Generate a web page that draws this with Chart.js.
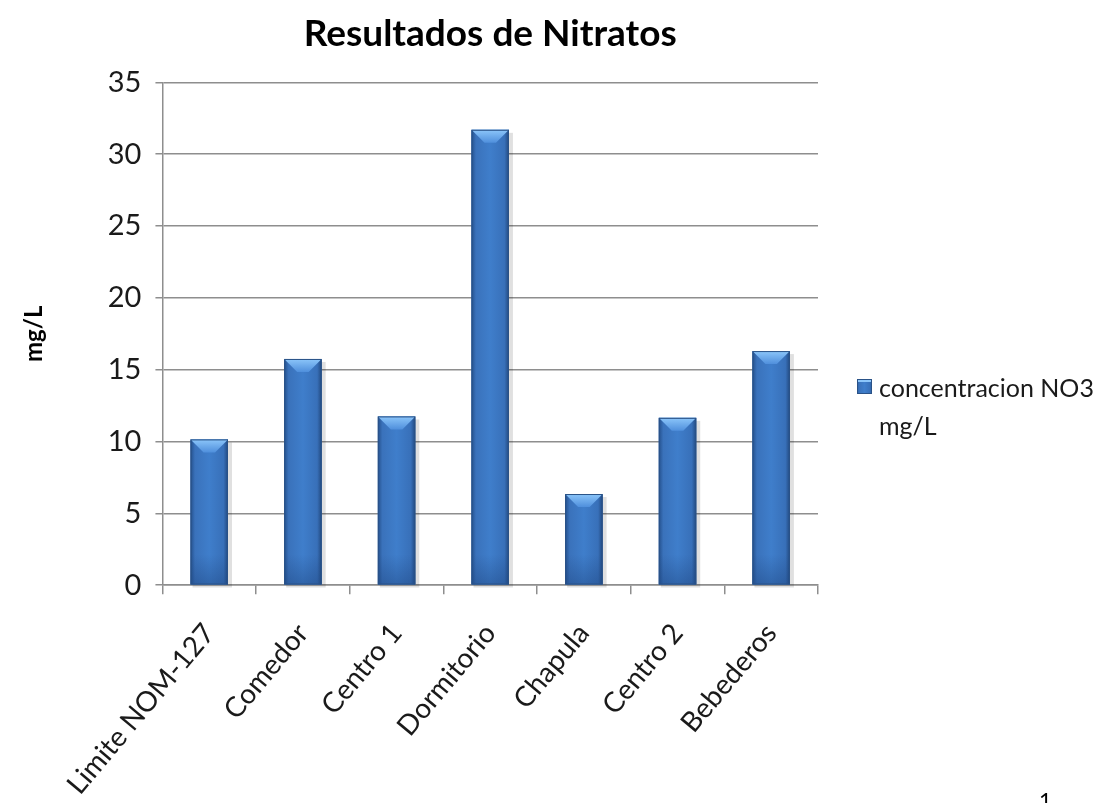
<!DOCTYPE html>
<html>
<head>
<meta charset="utf-8">
<script src="https://cdn.jsdelivr.net/npm/chart.js@4/dist/chart.umd.min.js"></script>
<style>
  html, body { margin: 0; padding: 0; background: #fff; }
  #wrap { position: relative; width: 1111px; height: 803px; }
</style>
</head>
<body>
<div id="wrap"><canvas id="bar-chart" width="1111" height="803"></canvas></div>
<script>
// Nitrate results per sampling site
const sitios = ["Limite NOM-127", "Comedor", "Centro 1", "Dormitorio", "Chapula", "Centro 2", "Bebederos"];
const nitratos = [10.15, 15.75, 11.75, 31.7, 6.35, 11.65, 16.3];
const serieLabel = "concentracion NO3 mg/L";
const yTicks = [0, 5, 10, 15, 20, 25, 30, 35];

const FONT = "Lato, 'Open Sans', sans-serif";
const GRID = "#8e8e8e";

// horizontal shading for the bar body
function bodyGradient(ctx, left, right) {
    const g = ctx.createLinearGradient(left, 0, right, 0);
    g.addColorStop(0, "#24508c");
    g.addColorStop(0.12, "#3a72bb");
    g.addColorStop(0.5, "#3f7ecb");
    g.addColorStop(0.88, "#3870b9");
    g.addColorStop(1, "#22497f");
    return g;
}

// bevelled look on top of each bar
const bevelBars = {
    id: "bevelBars",
    afterDatasetsDraw(chart) {
        const ctx = chart.ctx;
        chart.getDatasetMeta(0).data.forEach(bar => {
            const p = bar.getProps(["x", "y", "base", "width"], true);
            const left = p.x - p.width / 2, right = p.x + p.width / 2;
            const top = p.y, bottom = p.base;
            const h = bottom - top;
            const b = Math.min(13, h / 3);
            ctx.save();
            // soft shadow
            ctx.fillStyle = "rgba(0,0,0,0.12)";
            ctx.fillRect(left + 2, top + 3, p.width + 2, h);
            // body
            ctx.fillStyle = bodyGradient(ctx, left, right);
            ctx.fillRect(left, top, p.width, h);
            // bottom darker band
            const gb = ctx.createLinearGradient(0, bottom - 30, 0, bottom);
            gb.addColorStop(0, "rgba(30,70,130,0)");
            gb.addColorStop(1, "rgba(30,70,130,0.45)");
            ctx.fillStyle = gb;
            ctx.fillRect(left, bottom - 30, p.width, 30);
            // top bevel
            const gt = ctx.createLinearGradient(0, top, 0, top + b);
            gt.addColorStop(0, "#8cc6fa");
            gt.addColorStop(1, "#4f8fdc");
            ctx.fillStyle = gt;
            ctx.beginPath();
            ctx.moveTo(left, top);
            ctx.lineTo(right, top);
            ctx.lineTo(right - b, top + b);
            ctx.lineTo(left + b, top + b);
            ctx.closePath();
            ctx.fill();
            // outline
            ctx.strokeStyle = "#2a5287";
            ctx.lineWidth = 1;
            ctx.strokeRect(left + 0.5, top + 0.5, p.width - 1, h - 1);
            ctx.restore();
        });
    }
};

// legend with wrapped text, plus page number
const sideLegend = {
    id: "sideLegend",
    afterDraw(chart) {
        const ctx = chart.ctx;
        const x = 857, y = 379;
        ctx.save();
        ctx.fillStyle = bodyGradient(ctx, x, x + 15);
        ctx.fillRect(x, y, 15, 15);
        ctx.fillStyle = "#8cc6fa";
        ctx.fillRect(x, y, 15, 3);
        ctx.strokeStyle = "#2a5287";
        ctx.strokeRect(x + 0.5, y + 0.5, 14, 14);
        ctx.fillStyle = "#1a1a1a";
        ctx.font = "25px " + FONT;
        ctx.textBaseline = "alphabetic";
        const words = serieLabel.split(" ");
        ctx.fillText(words.slice(0, 2).join(" "), 879, 397);
        ctx.fillText(words.slice(2).join(" "), 879, 435);
        ctx.font = "22px " + FONT;
        ctx.fillStyle = "#000";
        ctx.fillText("1", 1039, 808);
        ctx.restore();
    }
};

new Chart(document.getElementById("bar-chart"), {
    type: "bar",
    data: {
        labels: sitios,
        datasets: [{
            label: serieLabel,
            data: nitratos,
            backgroundColor: "#3c78c4",
            borderWidth: 0,
            barPercentage: 0.4,
            categoryPercentage: 1.0
        }]
    },
    options: {
        responsive: false,
        animation: false,
        layout: { padding: { left: 20, right: 293, top: 0, bottom: -21 } },
        plugins: {
            legend: { display: false },
            tooltip: { enabled: false },
            title: {
                display: true,
                text: "Resultados de Nitratos",
                fullSize: false,
                color: "#000",
                font: { family: FONT, size: 37, weight: "bold" },
                padding: { top: 12, bottom: 26 }
            }
        },
        scales: {
            x: {
                grid: { display: true, drawOnChartArea: false, drawTicks: true, tickLength: 9, color: GRID, lineWidth: 1.5 },
                border: { color: GRID, width: 1.5 },
                ticks: {
                    color: "#1a1a1a",
                    font: { family: FONT, size: 28 },
                    minRotation: 50,
                    maxRotation: 50,
                    autoSkip: false,
                    padding: 23
                }
            },
            y: {
                min: 0,
                max: 35,
                afterBuildTicks: axis => { axis.ticks = yTicks.map(v => ({ value: v })); },
                grid: { color: GRID, lineWidth: 1.5, tickLength: 7 },
                border: { color: GRID, width: 1.5 },
                ticks: {
                    color: "#1a1a1a",
                    font: { family: FONT, size: 29 },
                    padding: 14
                },
                title: {
                    display: true,
                    text: "mg/L",
                    color: "#000",
                    font: { family: FONT, size: 24, weight: "bold" },
                    padding: { top: 0, bottom: 45 }
                }
            }
        }
    },
    plugins: [bevelBars, sideLegend]
});
</script>
</body>
</html>
